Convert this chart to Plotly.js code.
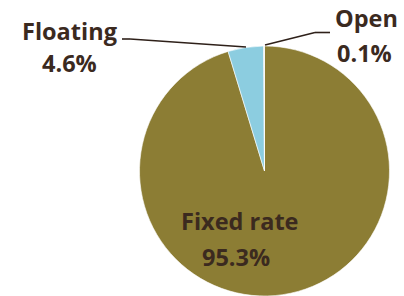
<!DOCTYPE html>
<html>
<head>
<meta charset="utf-8">
<script src="https://cdn.plot.ly/plotly-3.0.1.min.js"></script>
<style>html,body{margin:0;padding:0;background:#fff;}#chart{width:404px;height:296px;}</style>
</head>
<body>
<div id="chart"></div>
<script>
var labels = ["Fixed rate", "Floating", "Open"];
var values = [95.3, 4.6, 0.1];
var colors = ["#8C7D34", "#8CCDE0", "#E6E6E6"];

var W = 404, H = 296;
function px(x) { return x / W; }
function py(y) { return 1 - y / H; }

var textColor = "#3B2A1F";
var font = {family: "'Open Sans', sans-serif", size: 23.5, color: textColor, weight: 700};

// label positions (pixel centres) for each category
var labelPos = [
  {x: 239, y: 221, px2: 236, py2: 257},
  {x: 69.5, y: 30.5, px2: 69, py2: 63.5},
  {x: 366, y: 18, px2: 364, py2: 52.5}
];

var annotations = [];
labels.forEach(function (l, i) {
  var p = labelPos[i];
  annotations.push({xref: "paper", yref: "paper", x: px(p.x), y: py(p.y), text: "<b>" + l + "</b>",
    showarrow: false, xanchor: "center", yanchor: "middle", font: font});
  annotations.push({xref: "paper", yref: "paper", x: px(p.px2), y: py(p.py2), text: "<b>" + values[i].toFixed(1) + "%</b>",
    showarrow: false, xanchor: "center", yanchor: "middle", font: font});
});

var lineStyle = {color: "#2E2019", width: 1.6};
function seg(x0, y0, x1, y1) {
  return {type: "line", xref: "paper", yref: "paper", x0: px(x0), y0: py(y0), x1: px(x1), y1: py(y1), line: lineStyle};
}
var shapes = [
  seg(122, 39, 130, 39),
  seg(130, 39, 246, 47),
  seg(265, 45, 315, 32.5),
  seg(315, 32.5, 330, 32.5)
];

var trace = {
  type: "pie",
  labels: labels,
  values: values,
  sort: false,
  direction: "clockwise",
  rotation: 0,
  textinfo: "none",
  hoverinfo: "label+percent",
  marker: {colors: colors, line: {color: "#FFFFFF", width: 0.6}},
  domain: {x: [px(139), px(390)], y: [0, py(46)]},
  showlegend: false
};

Plotly.newPlot("chart", [trace], {
  width: W, height: H,
  margin: {l: 0, r: 0, t: 0, b: 0},
  paper_bgcolor: "#FFFFFF",
  plot_bgcolor: "#FFFFFF",
  showlegend: false,
  annotations: annotations,
  shapes: shapes
}, {staticPlot: true});
</script>
</body>
</html>
